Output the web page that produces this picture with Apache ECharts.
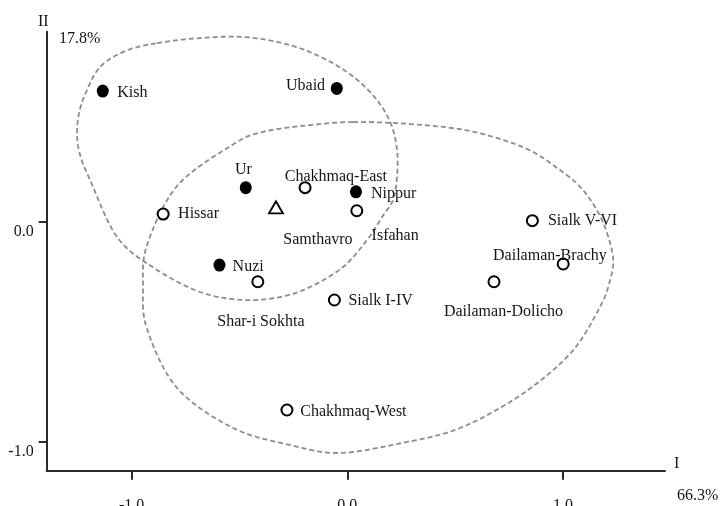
<!DOCTYPE html>
<html>
<head>
<meta charset="utf-8">
<script src="https://cdn.jsdelivr.net/npm/echarts@6/dist/echarts.min.js"></script>
<style>
  html, body { margin: 0; padding: 0; background: #fff; }
  #chart { width: 720px; height: 506px; }
</style>
</head>
<body>
<div id="chart"></div>
<script>
// Principal component scores of the skeletal series (PC I vs PC II)
const sites = ['Kish', 'Ubaid', 'Ur', 'Nippur', 'Nuzi', 'Hissar', 'Chakhmaq-East', 'Isfahan',
  'Samthavro', 'Shar-i Sokhta', 'Sialk I-IV', 'Sialk V-VI', 'Dailaman-Brachy',
  'Dailaman-Dolicho', 'Chakhmaq-West'];
const pc1 = [-1.134, -0.049, -0.471, 0.040, -0.593, -0.854, -0.196, 0.044,
  -0.331, -0.415, -0.060, 0.858, 1.001, 0.680, -0.280];
const pc2 = [0.594, 0.606, 0.155, 0.136, -0.197, 0.035, 0.155, 0.050,
  0.065, -0.273, -0.356, 0.005, -0.192, -0.273, -0.856];
const groups = ['Mesopotamia', 'Mesopotamia', 'Mesopotamia', 'Mesopotamia', 'Mesopotamia',
  'Iran', 'Iran', 'Iran', 'Caucasus', 'Iran', 'Iran', 'Iran', 'Iran', 'Iran', 'Iran'];

// Axis ticks and explained variance
const xTicks = [-1, 0, 1];
const yTicks = [-1, 0];
const xAxisName = 'I';
const yAxisName = 'II';
const xVariance = '66.3%';
const yVariance = '17.8%';

// Hand-drawn group outlines, as [PC I, PC II] vertices of a closed curve
const outlineNorth = [
  [-0.8822, 0.8123], [-0.6829, 0.8350], [-0.4743, 0.8395], [-0.2656, 0.8032],
  [-0.0941, 0.7350], [0.0357, 0.6532], [0.1377, 0.5532], [0.2026, 0.4441],
  [0.2304, 0.3259], [0.2304, 0.2032], [0.2119, 0.0986], [0.1609, 0.0214],
  [0.0913, -0.0832], [-0.0199, -0.2059], [-0.1729, -0.2968], [-0.3120, -0.3423],
  [-0.4835, -0.3559], [-0.6829, -0.3195], [-0.8962, -0.2105], [-1.0677, -0.0695],
  [-1.1929, 0.1895], [-1.2392, 0.3032], [-1.2531, 0.3941], [-1.2439, 0.4941],
  [-1.2114, 0.5895], [-1.1465, 0.7032], [-1.0306, 0.7759]
];
const outlineSouth = [
  [0.0264, 0.4532], [0.2907, 0.4441], [0.5689, 0.4123], [0.8238, 0.3350],
  [0.9861, 0.2350], [1.0927, 0.1441], [1.1808, 0.0077], [1.2318, -0.1605],
  [1.2133, -0.2832], [1.1715, -0.3877], [1.0556, -0.5741], [0.8934, -0.7241],
  [0.7079, -0.8468], [0.4993, -0.9468], [0.2768, -1.0014], [-0.0338, -1.0514],
  [-0.2656, -1.0150], [-0.5299, -0.9377], [-0.7895, -0.7559], [-0.9286, -0.4877],
  [-0.9471, -0.2968], [-0.9286, -0.1059], [-0.7895, 0.1623], [-0.5345, 0.3486],
  [-0.3955, 0.4077], [-0.1729, 0.4395]
];
const outlines = [outlineNorth, outlineSouth];

const FONT = "'Liberation Serif', 'Times New Roman', serif";
const INK = '#151515';

// Symbol look per group
const groupStyle = {
  Mesopotamia: { symbol: 'circle', symbolSize: [12, 13], itemStyle: { color: '#000', borderColor: '#000', borderWidth: 0, opacity: 1 } },
  Iran: { symbol: 'circle', symbolSize: 11, itemStyle: { color: '#fff', borderColor: '#000', borderWidth: 2, opacity: 1 } },
  Caucasus: { symbol: 'triangle', symbolSize: [14, 12], itemStyle: { color: '#fff', borderColor: '#000', borderWidth: 1.8, opacity: 1 } }
};

// Where each name sits relative to its marker (pixels)
const labelOffset = {
  'Kish': [29.6, 1.5],
  'Ubaid': [-31.2, -2.8],
  'Ur': [-2.4, -17.7],
  'Nippur': [37.7, 1.6],
  'Nuzi': [28.7, 1.3],
  'Hissar': [35.4, 0],
  'Chakhmaq-East': [30.8, -10.4],
  'Isfahan': [38.3, 24.6],
  'Samthavro': [42, 31.9],
  'Shar-i Sokhta': [3.1, 40],
  'Sialk I-IV': [46.2, 1],
  'Sialk V-VI': [50.2, 0.6],
  'Dailaman-Brachy': [-13.3, -7.8],
  'Dailaman-Dolicho': [9.5, 30],
  'Chakhmaq-West': [66.5, 1.5]
};

const points = sites.map(function (name, i) {
  const g = groupStyle[groups[i]];
  return {
    name: name,
    value: [pc1[i], pc2[i]],
    symbol: g.symbol,
    symbolSize: g.symbolSize,
    itemStyle: g.itemStyle,
    label: { offset: labelOffset[name] }
  };
});

// Closed Catmull-Rom curve through the projected outline vertices
function closedCurve(px) {
  const n = px.length, out = [], steps = 12;
  for (let i = 0; i < n; i++) {
    const p0 = px[(i - 1 + n) % n], p1 = px[i], p2 = px[(i + 1) % n], p3 = px[(i + 2) % n];
    for (let s = 0; s < steps; s++) {
      const t = s / steps, t2 = t * t, t3 = t2 * t;
      const f = function (a, b, c, d) {
        return 0.5 * ((2 * b) + (-a + c) * t + (2 * a - 5 * b + 4 * c - d) * t2 + (-a + 3 * b - 3 * c + d) * t3);
      };
      out.push([f(p0[0], p1[0], p2[0], p3[0]), f(p0[1], p1[1], p2[1], p3[1])]);
    }
  }
  return out;
}

const chart = echarts.init(document.getElementById('chart'), null, { renderer: 'canvas' });

chart.setOption({
  animation: false,
  backgroundColor: '#fff',
  textStyle: { fontFamily: FONT },
  grid: { left: 46.7, right: 55, top: 31.7, bottom: 35.3, containLabel: false, outerBoundsMode: 'none' },
  xAxis: {
    type: 'value',
    min: -1.394,
    max: 1.473,
    splitLine: { show: false },
    axisLine: { onZero: false, lineStyle: { color: '#2a2a2a', width: 2 } },
    axisTick: { show: true, inside: false, length: 9, customValues: xTicks, lineStyle: { color: '#2a2a2a', width: 2 } },
    axisLabel: {
      customValues: xTicks,
      formatter: function (v) { return v.toFixed(1); },
      margin: 27, fontSize: 16, color: INK, fontFamily: FONT, verticalAlign: 'top'
    }
  },
  yAxis: {
    type: 'value',
    min: -1.132,
    max: 0.864,
    splitLine: { show: false },
    axisLine: { onZero: false, lineStyle: { color: '#2a2a2a', width: 2 } },
    axisTick: { show: true, inside: false, length: 8, customValues: yTicks, lineStyle: { color: '#2a2a2a', width: 2 } },
    axisLabel: {
      customValues: yTicks,
      formatter: function (v) { return v.toFixed(1); },
      margin: 13, fontSize: 16, color: INK, fontFamily: FONT, verticalAlign: 'top', padding: [2, 0, 0, 0]
    }
  },
  graphic: [
    { type: 'text', left: 38, top: 14, style: { text: yAxisName, font: '16px ' + FONT, fill: INK } },
    { type: 'text', left: 59, top: 31, style: { text: yVariance, font: '16px ' + FONT, fill: INK } },
    { type: 'text', left: 674, top: 456, style: { text: xAxisName, font: '16px ' + FONT, fill: INK } },
    { type: 'text', left: 677, top: 488, style: { text: xVariance, font: '16px ' + FONT, fill: INK } }
  ],
  series: [
    {
      type: 'custom',
      data: [[0], [1]],
      z: 1,
      silent: true,
      renderItem: function (params, api) {
        const outline = outlines[api.value(0)];
        const px = outline.map(function (p) { return api.coord(p); });
        return {
          type: 'polygon',
          shape: { points: closedCurve(px) },
          style: { fill: 'none', stroke: '#8c8c8c', lineWidth: 1.8, lineDash: [5, 3] }
        };
      }
    },
    {
      type: 'scatter',
      z: 3,
      data: points,
      label: {
        show: true,
        position: 'inside',
        formatter: '{b}',
        color: INK,
        fontSize: 16,
        fontFamily: FONT
      }
    }
  ]
});
</script>
</body>
</html>
